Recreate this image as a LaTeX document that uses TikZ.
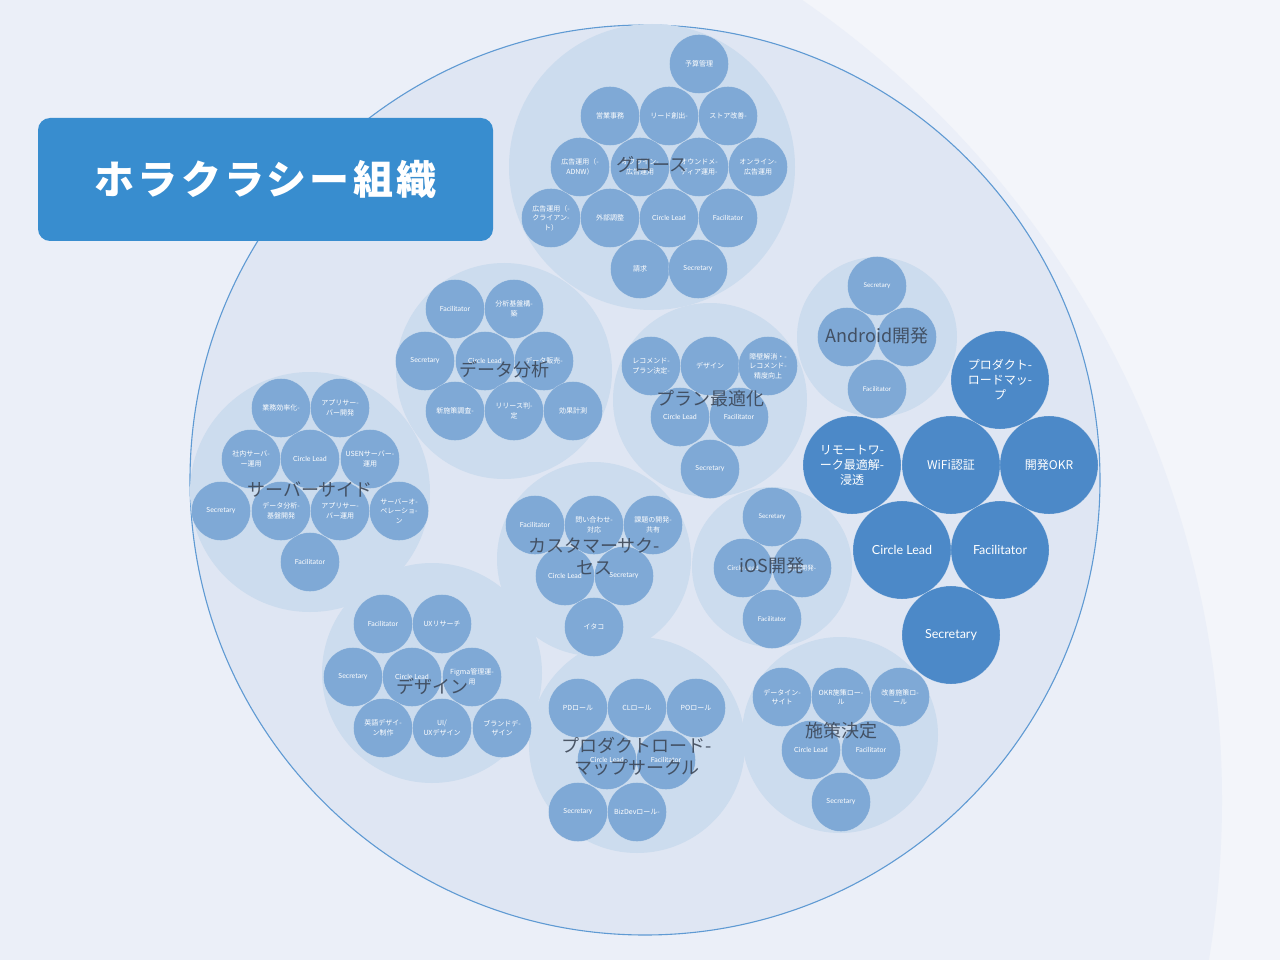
\documentclass[tikz,border=0pt]{standalone}
\usepackage{fontspec}
\setmainfont{Lato}
\newfontfamily\jp{Noto Sans CJK JP}
\newfontfamily\jpsp[LetterSpace=8]{Noto Sans CJK JP}
\definecolor{bgout}{HTML}{F3F5FA}
\definecolor{bgin}{HTML}{EBEFF8}
\definecolor{mainc}{HTML}{DFE6F3}
\definecolor{mainline}{HTML}{5F9AD3}
\definecolor{grpc}{HTML}{CCDCEE}
\definecolor{smc}{HTML}{7FA9D6}
\definecolor{bigc}{HTML}{4C89C8}
\definecolor{ttlc}{HTML}{3A4454}
\definecolor{boxc}{HTML}{388DCF}
\tikzset{
  grp/.style={circle, fill=grpc, minimum size=#1, inner sep=0pt},
  sm/.style={circle, fill=smc, draw=white, draw opacity=0.35, line width=0.4pt, minimum size=59pt, inner sep=0pt, text=white, align=center, font=\jp\fontsize{7}{9.5}\selectfont},
  sme/.style={sm, font=\fontsize{7}{9.5}\selectfont},
  big/.style={circle, fill=bigc, draw=white, draw opacity=0.3, line width=0.4pt, minimum size=98pt, inner sep=0pt, text=white, align=center, font=\jp\fontsize{12}{15}\selectfont},
  bige/.style={big, font=\fontsize{12.5}{15}\selectfont},
  ttl/.style={text=ttlc, text opacity=0.88, align=center, font=\jp\fontsize{18}{22}\selectfont, inner sep=0pt},
}
\begin{document}
\begin{tikzpicture}[x=1pt,y=-1pt]
\useasboundingbox (0,0) rectangle (1280,960);
\fill[bgout] (0,0) rectangle (1280,960);
\begin{scope}
\clip (0,0) rectangle (1280,960);
\fill[bgin] (250,800) circle (972);
\end{scope}
% main circle
\node[circle, fill=mainc, draw=mainline, line width=1.1pt, minimum size=910pt, inner sep=0pt] (main) at (645,480) {};
% group circles
\node[grp=286pt] (G) at (652,167) {};
\node[grp=216pt] (D) at (504,371) {};
\node[grp=194pt] (P) at (710,400) {};
\node[grp=160pt] (A) at (877,337) {};
\node[grp=240pt] (S) at (310,492) {};
\node[grp=194pt] (C) at (594,559) {};
\node[grp=160pt] (I) at (772,567) {};
\node[grp=220pt] (E) at (432,673) {};
\node[grp=216pt] (R) at (637,745) {};
\node[grp=196pt] (Q) at (840,735) {};
% growth
\node[sm] (g1) at (699,64) {予算管理};
\node[sm] (g2) at (610,116) {営業事務};
\node[sm] (g3) at (669,116) {リード創出-};
\node[sm] (g4) at (728,116) {ストア改善-};
\node[sm] (g5) at (580,167) {広告運用（-\\ADNW）};
\node[sm] (g6) at (640,167) {オフライン-\\広告運用};
\node[sm] (g7) at (699,167) {オウンドメ-\\ディア運用-};
\node[sm] (g8) at (758,167) {オンライン-\\広告運用};
\node[sm] (g9) at (551,218) {広告運用（-\\クライアン-\\ト）};
\node[sm] (g10) at (610,218) {外部調整};
\node[sme] (g11) at (669,218) {Circle Lead};
\node[sme] (g12) at (728,218) {Facilitator};
\node[sm] (g13) at (640,269) {請求};
\node[sme] (g14) at (698,269) {Secretary};
% data analysis
\node[sme] (d1) at (455,309) {Facilitator};
\node[sm] (d2) at (514,309) {分析基盤構-\\築};
\node[sme] (d3) at (425,361) {Secretary};
\node[sme] (d4) at (485,361) {Circle Lead};
\node[sm] (d5) at (544,361) {データ販売-};
\node[sm] (d6) at (455,411) {新施策調査-};
\node[sm] (d7) at (514,411) {リリース判-\\定};
\node[sm] (d8) at (573,411) {効果計測};
% plan
\node[sm] (p1) at (651,366) {レコメンド-\\プラン決定-};
\node[sm] (p2) at (710,366) {デザイン};
\node[sm] (p3) at (768,366) {障壁解消・-\\レコメンド-\\精度向上};
\node[sme] (p4) at (680,417) {Circle Lead};
\node[sme] (p5) at (739,417) {Facilitator};
\node[sme] (p6) at (710,469) {Secretary};
% android
\node[sme, font=\fontsize{6.5}{9}\selectfont] (a1) at (877,286) {Secretary};
\node[sm] (a2) at (847,337) {};
\node[sm] (a3) at (907,337) {};
\node[sme, font=\fontsize{6.5}{9}\selectfont] (a4) at (877,389) {Facilitator};
% server side
\node[sm] (s1) at (281,408) {業務効率化-};
\node[sm] (s2) at (340,408) {アプリサー-\\バー開発};
\node[sm] (s3) at (251,459) {社内サーバ-\\ー運用};
\node[sme] (s4) at (310,459) {Circle Lead};
\node[sm] (s5) at (370,459) {USENサーバー-\\運用};
\node[sme] (s6) at (221,511) {Secretary};
\node[sm] (s7) at (281,511) {データ分析-\\基盤開発};
\node[sm] (s8) at (340,511) {アプリサー-\\バー運用};
\node[sm] (s9) at (399,511) {サーバーオ-\\ペレーショ-\\ン};
\node[sme] (s10) at (310,562) {Facilitator};
% customer success
\node[sme] (c1) at (535,525) {Facilitator};
\node[sm] (c2) at (594,525) {問い合わせ-\\対応};
\node[sm] (c3) at (653,525) {課題の開発-\\共有};
\node[sme] (c4) at (565,576) {Circle Lead};
\node[sme] (c5) at (624,576) {Secretary};
\node[sm] (c6) at (594,627) {イタコ};
% iOS
\node[sme, font=\fontsize{6.5}{9}\selectfont] (i1) at (772,517) {Secretary};
\node[sme, font=\fontsize{6.5}{9}\selectfont] (i2) at (743,568) {Circle Lead};
\node[sm, font=\jp\fontsize{6.5}{9}\selectfont] (i3) at (802,568) {機能開発-};
\node[sme, font=\fontsize{6.5}{9}\selectfont] (i4) at (772,619) {Facilitator};
% design
\node[sme] (e1) at (383,624) {Facilitator};
\node[sm] (e2) at (442,624) {UXリサーチ};
\node[sme] (e3) at (353,677) {Secretary};
\node[sme] (e4) at (412,677) {Circle Lead};
\node[sm] (e5) at (472,677) {Figma管理運-\\用};
\node[sm] (e6) at (383,728) {英語デザイ-\\ン制作};
\node[sm] (e7) at (442,728) {UI/\\UXデザイン};
\node[sm] (e8) at (502,728) {ブランドデ-\\ザイン};
% roadmap
\node[sm] (r1) at (578,708) {PDロール};
\node[sm] (r2) at (637,708) {CLロール};
\node[sm] (r3) at (696,708) {POロール};
\node[sme] (r4) at (607,760) {Circle Lead};
\node[sme] (r5) at (666,760) {Facilitator};
\node[sme] (r6) at (578,812) {Secretary};
\node[sm] (r7) at (637,812) {BizDevロール-};
% policy
\node[sm] (q1) at (782,697) {データイン-\\サイト};
\node[sm] (q2) at (841,697) {OKR施策ロー-\\ル};
\node[sm] (q3) at (900,697) {改善施策ロ-\\ール};
\node[sme] (q4) at (811,750) {Circle Lead};
\node[sme] (q5) at (871,750) {Facilitator};
\node[sme] (q6) at (841,802) {Secretary};
% titles
\node[ttl] (tG) at (652,165) {グロース};
\node[ttl] (tD) at (504,370) {データ分析};
\node[ttl] (tP) at (710,399) {プラン最適化};
\node[ttl] (tA) at (877,336) {Android開発};
\node[ttl] (tS) at (310,490) {サーバーサイド};
\node[ttl] (tC) at (594,556) {カスタマーサク-\\セス};
\node[ttl] (tI) at (772,566) {iOS開発};
\node[ttl] (tE) at (432,686) {デザイン};
\node[ttl] (tR) at (637,757) {プロダクトロード-\\マップサークル};
\node[ttl] (tQ) at (841,731) {施策決定};
% dark circles
\node[big] (b1) at (1000,380) {プロダクト-\\ロードマッ-\\プ};
\node[big] (b2) at (852,465) {リモートワ-\\ーク最適解-\\浸透};
\node[big] (b3) at (951,465) {WiFi認証};
\node[big] (b4) at (1049,465) {開発OKR};
\node[bige] (b5) at (902,550) {Circle Lead};
\node[bige] (b6) at (1000,550) {Facilitator};
\node[bige] (b7) at (951,635) {Secretary};
% title box
\node[fill=boxc, rounded corners=12pt, minimum width=455pt, minimum height=123pt, inner sep=0pt, text=white, font=\jpsp\bfseries\fontsize{40}{40}\selectfont] (title) at (265.5,179.5) {ホラクラシー組織};
\end{tikzpicture}
\end{document}
